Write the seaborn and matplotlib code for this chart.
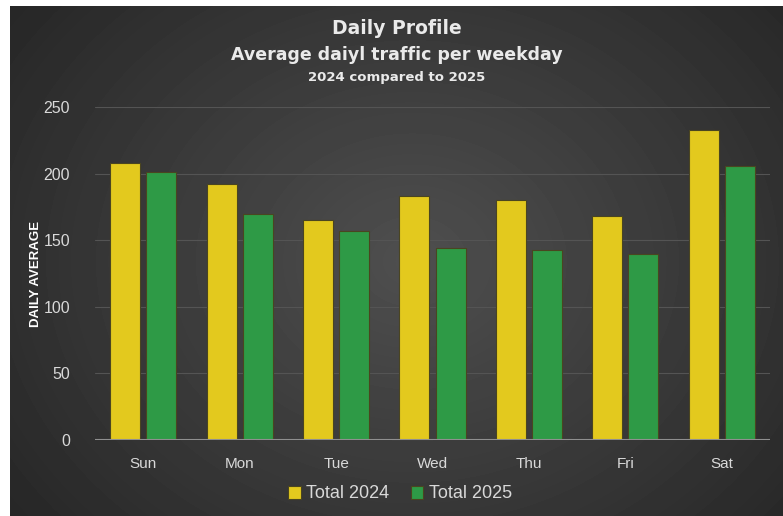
import numpy as np
import pandas as pd
import matplotlib
matplotlib.use("Agg")
import matplotlib.pyplot as plt
import seaborn as sns

# Daten
days = ["Sun", "Mon", "Tue", "Wed", "Thu", "Fri", "Sat"]
total_2024 = [208, 192, 165, 183, 180, 168, 233]
total_2025 = [201, 170, 157, 144, 143, 140, 206]
series_names = ["Total 2024", "Total 2025"]
y_ticks = [0, 50, 100, 150, 200, 250]

df = pd.DataFrame({
    "day": days * 2,
    "value": total_2024 + total_2025,
    "series": [series_names[0]] * len(days) + [series_names[1]] * len(days),
})

sns.set_style("dark")
plt.rcParams["font.family"] = ["Liberation Sans", "DejaVu Sans"]

yellow = "#E3C91E"
green = "#2E9A46"
txt = "#D9D9D9"

fig = plt.figure(figsize=(7.83, 5.16), dpi=100, facecolor="white")

# Hintergrund mit radialem Verlauf
bg = fig.add_axes([10 / 783, 0, 1 - 10 / 783, 1 - 6 / 516], zorder=-10)
h, w = 510, 773
yy, xx = np.mgrid[0:h, 0:w]
r = np.sqrt(((xx - w * 0.52) / (w * 0.62)) ** 2 + ((yy - h * 0.5) / (h * 0.78)) ** 2)
val = np.clip(0.31 - 0.15 * r, 0.13, 0.32)
bg.imshow(val, cmap="gray", vmin=0, vmax=1, aspect="auto", extent=[0, 1, 0, 1])
bg.set_axis_off()

ax = fig.add_axes([95 / 783, 1 - 440 / 516, (770 - 95) / 783, (440 - 107) / 516])
ax.set_facecolor("none")

sns.barplot(data=df, x="day", y="value", hue="series", palette=[yellow, green],
            width=0.747, gap=0.167, ax=ax, errorbar=None, saturation=1,
            linewidth=0.8, edgecolor="#4a4520")

ax.set_ylim(0, 250)
ax.set_yticks(y_ticks)
ax.set_xlim(-0.5, 6.5)
ax.grid(axis="y", color="#545454", linewidth=0.8)
ax.grid(axis="x", visible=False)
ax.set_axisbelow(True)
for s in ax.spines.values():
    s.set_visible(False)
ax.axhline(0, color="#8f8f8f", linewidth=1.5, zorder=3)
ax.tick_params(axis="both", length=0, colors=txt, labelsize=11.5)
ax.tick_params(axis="y", pad=18)
ax.tick_params(axis="x", pad=12, labelsize=11)
ax.set_xlabel("")
ax.set_ylabel("DAILY AVERAGE", color="white", fontsize=9.5, fontweight="bold")
ax.yaxis.set_label_coords(-0.078, 0.5)

handles, labels = ax.get_legend_handles_labels()
ax.get_legend().remove()
fig.legend(handles, labels, loc="center", bbox_to_anchor=(400 / 783, 1 - 494 / 516),
           ncol=2, frameon=False, fontsize=13, labelcolor=txt,
           handlelength=0.7, handleheight=0.7, handletextpad=0.3, columnspacing=1.2)

fig.text(397 / 783, 1 - 29 / 516, "Daily Profile", ha="center", va="center",
         color="#EAEAEA", fontsize=13.5, fontweight="bold", family=["DejaVu Sans"])
fig.text(397 / 783, 1 - 55 / 516, "Average daiyl traffic per weekday", ha="center", va="center",
         color="#EAEAEA", fontsize=12.5, fontweight="bold", family=["DejaVu Sans"])
fig.text(397 / 783, 1 - 78 / 516, "2024 compared to 2025", ha="center", va="center",
         color="#EAEAEA", fontsize=9.5, fontweight="bold", family=["DejaVu Sans"])

fig.savefig("out.png", dpi=100, facecolor="white")
